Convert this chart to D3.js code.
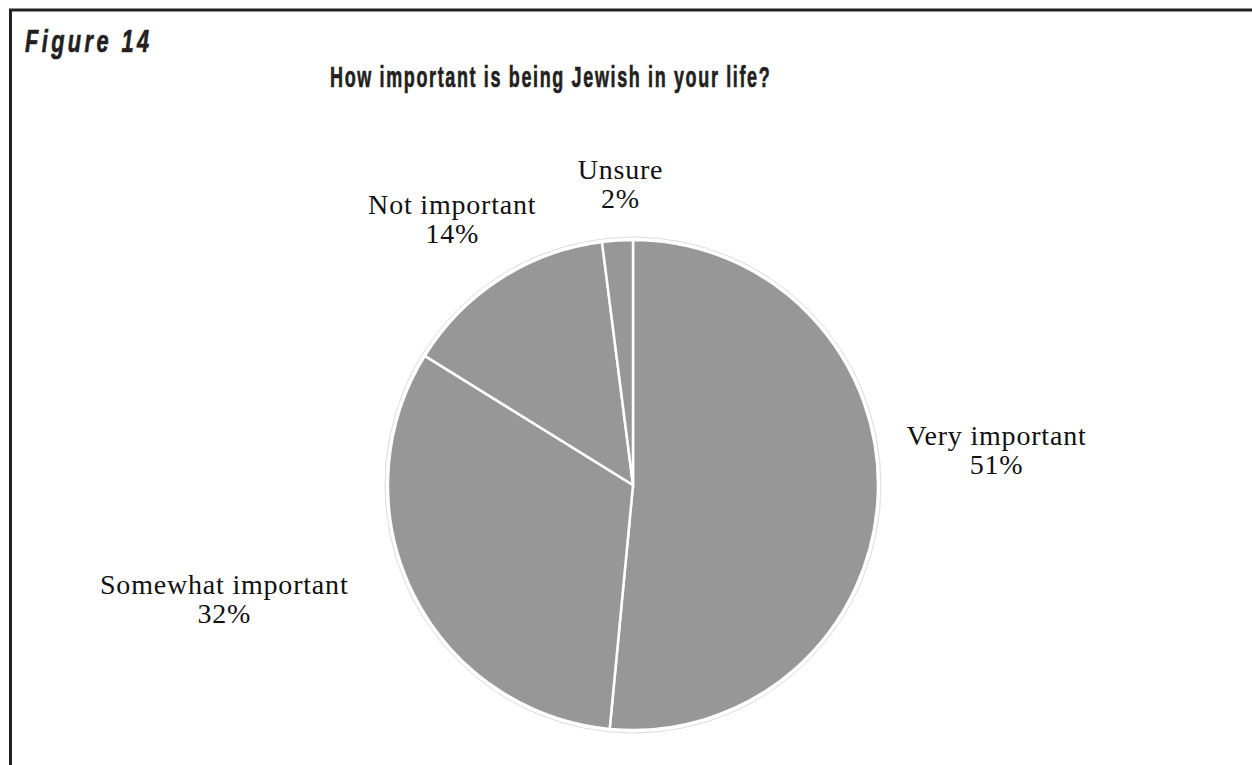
<!DOCTYPE html>
<html>
<head>
<meta charset="utf-8">
<script src="https://cdn.jsdelivr.net/npm/d3@7"></script>
<style>
  html, body { margin: 0; padding: 0; background: #fff; }
  svg { display: block; }
</style>
</head>
<body>
<svg id="chart" width="1252" height="765"></svg>
<script>
// ---- data ----
const categories = ["Very important", "Somewhat important", "Not important", "Unsure"];
const values = [51, 32, 14, 2];
const valueLabels = ["51%", "32%", "14%", "2%"];
const figureLabel = "Figure 14";
const titleText = "How important is being Jewish in your life?";

// ---- layout ----
const W = 1252, H = 765;
const cx = 633, cy = 485, r = 245;
const svg = d3.select("#chart");

// frame (left + top rule)
svg.append("path")
  .attr("d", `M10.5,${H} L10.5,10 L${W},10`)
  .attr("fill", "none").attr("stroke", "#222").attr("stroke-width", 3);

// condensed heading text: horizontally squeezed glyphs + tracking to fill a width
function condensedText(str, x, y, size, italic, sx, targetW) {
  const t = svg.append("text")
    .attr("font-family", "'Liberation Sans', Arial, sans-serif")
    .attr("font-weight", "bold")
    .attr("font-style", italic ? "italic" : "normal")
    .attr("font-size", size)
    .attr("fill", "#231f20")
    .attr("stroke", "#231f20").attr("stroke-width", 0.7)
    .text(str);
  const natural = t.node().getComputedTextLength();
  const n = str.length;
  const ls = (targetW / sx - natural) / (n - 1);
  t.attr("letter-spacing", ls)
   .attr("transform", `translate(${x},${y}) scale(${sx},1)`);
  return t;
}

condensedText(figureLabel, 25, 52, 32, true, 0.68, 124);
condensedText(titleText, 330, 87, 30, false, 0.6, 440);

const data = categories.map((c, i) => ({ cat: c, value: values[i], label: valueLabels[i] }));
const pie = d3.pie().sort(null).value(d => d.value).startAngle(0).endAngle(2 * Math.PI);
const arcs = pie(data);
const arc = d3.arc().innerRadius(0).outerRadius(r);

const g = svg.append("g").attr("transform", `translate(${cx},${cy})`);

g.append("circle").attr("r", r + 3)
  .attr("fill", "none").attr("stroke", "#dcdcdc").attr("stroke-width", 1);

g.selectAll("path.slice").data(arcs).enter().append("path")
  .attr("class", "slice")
  .attr("d", arc)
  .attr("fill", "#979797")
  .attr("stroke", "#fff").attr("stroke-width", 2.5)
  .attr("stroke-linejoin", "miter");

// labels outside the pie, placed beside the arc at each slice's mid-angle
const labelR = r + 20;
const boxH = 56;
const nudges = [[9, -39], [-60, -7], [8, -10], [7, 1]];
const labelFont = "'Liberation Serif', 'Times New Roman', serif";
const labelSize = 28;

arcs.forEach((a, i) => {
  const mid = (a.startAngle + a.endAngle) / 2;
  const s = Math.sin(mid), c = Math.cos(mid);
  const t = g.append("text")
    .attr("font-family", labelFont).attr("font-size", labelSize)
    .attr("letter-spacing", 0.8)
    .attr("fill", "#111").attr("text-anchor", "middle");
  const l1 = t.append("tspan").text(a.data.cat);
  const w = l1.node().getComputedTextLength();
  const px = labelR * s, py = -labelR * c;
  const mx = px + s * w / 2 + nudges[i][0];
  const my = py - c * boxH / 2 + nudges[i][1];
  l1.attr("x", mx).attr("y", my - 14.5);
  t.append("tspan").attr("x", mx).attr("y", my + 14.5).text(a.data.label);
});
</script>
</body>
</html>
